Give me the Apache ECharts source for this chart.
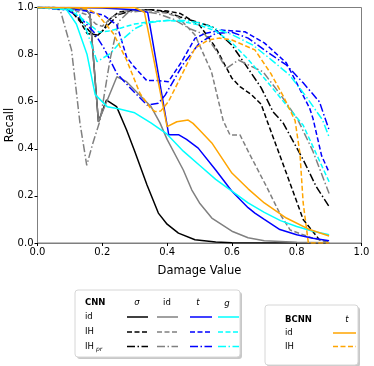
<!DOCTYPE html>
<html>
<head>
<meta charset="utf-8">
<script src="https://cdn.jsdelivr.net/npm/echarts@6/dist/echarts.min.js"></script>
<style>
  html, body { margin: 0; padding: 0; background: #fff; }
  #chart { width: 374px; height: 366px; }
</style>
</head>
<body>
<div id="chart"></div>
<script>
// x ticks / y ticks
const xTicks = [0, 0.2, 0.4, 0.6, 0.8, 1.0];
const yTicks = [0, 0.2, 0.4, 0.6, 0.8, 1.0];

// CNN, sigma
const sigmaId = [[0,1],[0.05,1],[0.1,0.995],[0.15,0.99],[0.162,0.97],[0.188,0.515],[0.213,0.607],[0.244,0.579],[0.275,0.48],[0.3,0.39],[0.338,0.246],[0.373,0.127],[0.4,0.08],[0.435,0.042],[0.486,0.014],[0.55,0.004],[0.6,0.001],[0.9,0]];
const sigmaIH = [[0,1],[0.05,1],[0.1,0.99],[0.132,0.94],[0.153,0.89],[0.184,0.883],[0.204,0.904],[0.22,0.947],[0.25,0.98],[0.3,0.99],[0.35,0.99],[0.4,0.985],[0.44,0.975],[0.5,0.925],[0.55,0.83],[0.6,0.7],[0.625,0.664],[0.66,0.63],[0.69,0.59],[0.711,0.51],[0.768,0.297],[0.82,0.1],[0.87,0.014],[0.9,0.005]];
const sigmaIHpr = [[0,1],[0.05,1],[0.1,0.99],[0.13,0.95],[0.16,0.9],[0.18,0.875],[0.2,0.9],[0.25,0.97],[0.3,0.99],[0.35,0.99],[0.4,0.98],[0.44,0.96],[0.5,0.935],[0.54,0.918],[0.6,0.84],[0.646,0.749],[0.69,0.66],[0.727,0.557],[0.758,0.51],[0.82,0.354],[0.86,0.24],[0.9,0.155]];

// CNN, id
const idId = [[0,1],[0.05,1],[0.1,0.995],[0.15,0.99],[0.162,0.97],[0.188,0.515],[0.245,0.706],[0.275,0.685],[0.3,0.65],[0.35,0.58],[0.378,0.51],[0.4,0.44],[0.45,0.31],[0.476,0.226],[0.5,0.17],[0.538,0.106],[0.6,0.05],[0.65,0.022],[0.7,0.01],[0.8,0.003],[0.9,0.001]];
const idIH = [[0,1],[0.1,0.995],[0.15,0.97],[0.18,0.93],[0.2,0.92],[0.23,0.96],[0.27,0.985],[0.33,0.99],[0.4,0.975],[0.434,0.96],[0.486,0.883],[0.537,0.727],[0.573,0.52],[0.594,0.459],[0.625,0.459],[0.65,0.39],[0.707,0.239],[0.75,0.12],[0.78,0.055],[0.85,0.02],[0.9,0.005]];
const idIHpr = [[0,1],[0.05,0.995],[0.07,0.99],[0.105,0.82],[0.131,0.51],[0.152,0.33],[0.17,0.42],[0.193,0.52],[0.224,0.78],[0.25,0.94],[0.28,0.98],[0.32,0.985],[0.368,0.975],[0.42,0.95],[0.47,0.91],[0.517,0.885],[0.55,0.82],[0.582,0.74],[0.62,0.777],[0.66,0.75],[0.696,0.727],[0.75,0.63],[0.804,0.522],[0.85,0.39],[0.9,0.21]];

// CNN, t
const tId = [[0,1],[0.1,1],[0.2,0.998],[0.3,0.99],[0.34,0.98],[0.405,0.46],[0.435,0.46],[0.46,0.44],[0.496,0.403],[0.55,0.31],[0.6,0.22],[0.65,0.15],[0.671,0.127],[0.7,0.1],[0.748,0.057],[0.8,0.035],[0.85,0.02],[0.9,0.01]];
const tIH = [[0,1],[0.1,0.995],[0.15,0.985],[0.204,0.967],[0.245,0.926],[0.275,0.79],[0.297,0.75],[0.337,0.69],[0.37,0.69],[0.404,0.685],[0.445,0.77],[0.486,0.869],[0.517,0.89],[0.568,0.904],[0.64,0.897],[0.7,0.85],[0.768,0.765],[0.84,0.572],[0.85,0.53],[0.877,0.37],[0.9,0.3]];
const tIHpr = [[0,1],[0.09,0.99],[0.13,0.96],[0.173,0.897],[0.204,0.83],[0.245,0.72],[0.287,0.657],[0.338,0.586],[0.373,0.593],[0.394,0.628],[0.45,0.76],[0.5,0.85],[0.55,0.89],[0.6,0.895],[0.65,0.87],[0.7,0.82],[0.768,0.756],[0.82,0.68],[0.87,0.6],[0.9,0.48]];

// CNN, g
const gId = [[0,1],[0.05,1],[0.09,0.99],[0.12,0.93],[0.153,0.8],[0.178,0.63],[0.215,0.579],[0.25,0.57],[0.3,0.553],[0.35,0.51],[0.4,0.462],[0.45,0.39],[0.5,0.33],[0.55,0.27],[0.6,0.22],[0.65,0.17],[0.7,0.13],[0.75,0.095],[0.8,0.07],[0.85,0.05],[0.9,0.035]];
const gIH = [[0,1],[0.1,0.99],[0.15,0.94],[0.19,0.895],[0.22,0.9],[0.25,0.91],[0.3,0.93],[0.35,0.94],[0.4,0.945],[0.45,0.94],[0.5,0.925],[0.55,0.9],[0.6,0.85],[0.65,0.78],[0.7,0.7],[0.768,0.586],[0.82,0.5],[0.86,0.38],[0.9,0.26]];
const gIHpr = [[0,1],[0.1,0.995],[0.13,0.97],[0.153,0.897],[0.184,0.77],[0.225,0.805],[0.266,0.869],[0.3,0.91],[0.338,0.935],[0.4,0.945],[0.45,0.945],[0.5,0.935],[0.55,0.91],[0.6,0.885],[0.665,0.84],[0.72,0.78],[0.778,0.713],[0.83,0.62],[0.88,0.522],[0.9,0.45]];

// BCNN, t
const bId = [[0,1],[0.3,1],[0.33,0.98],[0.4,0.494],[0.43,0.515],[0.465,0.522],[0.48,0.508],[0.5,0.48],[0.538,0.425],[0.6,0.297],[0.65,0.23],[0.7,0.17],[0.768,0.106],[0.84,0.057],[0.9,0.03]];
const bIH = [[0,1],[0.1,1],[0.15,0.995],[0.183,0.975],[0.234,0.89],[0.275,0.777],[0.316,0.636],[0.35,0.57],[0.363,0.558],[0.38,0.56],[0.404,0.6],[0.445,0.713],[0.486,0.827],[0.527,0.862],[0.56,0.87],[0.6,0.862],[0.671,0.82],[0.72,0.72],[0.76,0.62],[0.795,0.52],[0.81,0.38],[0.82,0.17],[0.836,0],[0.9,0]];

const SOLID = 'solid';
const DASH = [5, 2.5];
const DASHDOT = [8, 2.5, 1.5, 2.5];

const seriesDefs = [
  { data: sigmaId,   color: '#000000', dash: SOLID },
  { data: sigmaIH,   color: '#000000', dash: DASH },
  { data: sigmaIHpr, color: '#000000', dash: DASHDOT },
  { data: idId,      color: '#808080', dash: SOLID },
  { data: idIH,      color: '#808080', dash: DASH },
  { data: idIHpr,    color: '#808080', dash: DASHDOT },
  { data: tId,       color: '#0000ff', dash: SOLID },
  { data: tIH,       color: '#0000ff', dash: DASH },
  { data: tIHpr,     color: '#0000ff', dash: DASHDOT },
  { data: gId,       color: '#00ffff', dash: SOLID },
  { data: gIH,       color: '#00ffff', dash: DASH },
  { data: gIHpr,     color: '#00ffff', dash: DASHDOT },
  { data: bId,       color: '#ffa500', dash: SOLID },
  { data: bIH,       color: '#ffa500', dash: DASH }
];

const FONT = 'DejaVu Sans';
const AXIS_COLOR = '#7f7f7f';

// legend pieces (drawn as graphics)
function legLine(x1, x2, y, color, dash) {
  return { type: 'line', shape: { x1: x1, y1: y, x2: x2, y2: y },
    style: { stroke: color, lineWidth: 1.5, lineDash: dash === SOLID ? null : dash } };
}
function legText(x, y, text, opts) {
  opts = opts || {};
  return { type: 'text', x: x, y: y,
    style: { text: text, fill: '#000', font: (opts.style || '') + ' ' + (opts.weight || 'normal') + ' ' + (opts.size || 8.5) + 'px "' + FONT + '"',
      textAlign: opts.align || 'left', textVerticalAlign: 'middle' } };
}

const rows = [317, 332, 346.5];
const cols = [[127, 148], [157, 178], [190, 212], [218, 239]];
const colColors = ['#000000', '#808080', '#0000ff', '#00ffff'];
const rowDash = [SOLID, DASH, DASHDOT];

const graphics = [
  // y axis title (rotated; kept out of the axis so the grid isn't pushed)
  { type: 'text', x: 10.5, y: 125, rotation: Math.PI / 2,
    style: { text: 'Recall', fill: '#000', font: '11.5px "' + FONT + '"', textAlign: 'center', textVerticalAlign: 'middle' } },
  // CNN legend box
  { type: 'rect', shape: { x: 77, y: 292, width: 165, height: 67, r: 3 }, style: { fill: '#c8c8c8' } },
  { type: 'rect', shape: { x: 75, y: 290, width: 165, height: 67, r: 3 }, style: { fill: '#fff', stroke: '#d6d6d6', lineWidth: 1 } },
  legText(85, 303, 'CNN', { weight: 'bold' }),
  legText(137, 303, 'σ', { style: 'italic', align: 'center' }),
  legText(167, 303, 'id', { align: 'center' }),
  legText(198, 303, 't', { style: 'italic', align: 'center' }),
  legText(227, 304, 'g', { style: 'italic', align: 'center' }),
  legText(85, rows[0], 'id'),
  legText(85, rows[1], 'IH'),
  legText(85, rows[2], 'IH'),
  legText(96, rows[2] + 3, 'pr', { style: 'italic', size: 6 }),
  // BCNN legend box
  { type: 'rect', shape: { x: 267, y: 307, width: 93, height: 60, r: 3 }, style: { fill: '#c8c8c8' } },
  { type: 'rect', shape: { x: 265, y: 305, width: 93, height: 60, r: 3 }, style: { fill: '#fff', stroke: '#d6d6d6', lineWidth: 1 } },
  legText(285, 320, 'BCNN', { weight: 'bold' }),
  legText(347, 320, 't', { style: 'italic', align: 'center' }),
  legText(285, 333, 'id'),
  legText(285, 346.5, 'IH'),
  legLine(333, 356, 333, '#ffa500', SOLID),
  legLine(333, 356, 346.5, '#ffa500', DASH)
];
rows.forEach(function (y, r) {
  cols.forEach(function (c, k) {
    graphics.push(legLine(c[0], c[1], y, colColors[k], rowDash[r]));
  });
});

const chart = echarts.init(document.getElementById('chart'), null, { renderer: 'canvas' });
chart.setOption({
  animation: false,
  backgroundColor: '#fff',
  textStyle: { fontFamily: FONT },
  grid: {
    left: 37.5, right: 12.5, top: 7.5, bottom: 123,
    containLabel: false,
    show: true, borderColor: AXIS_COLOR, borderWidth: 1, backgroundColor: 'transparent'
  },
  xAxis: {
    type: 'value', min: xTicks[0], max: xTicks[xTicks.length - 1], interval: 0.2,
    name: 'Damage Value', nameLocation: 'middle', nameGap: 22, nameMoveOverlap: false,
    nameTextStyle: { fontSize: 11.5, color: '#000', fontFamily: FONT },
    axisLine: { show: true, lineStyle: { color: AXIS_COLOR, width: 1 } },
    axisTick: { show: true, length: 3, lineStyle: { color: '#000' } },
    axisLabel: { fontSize: 10, color: '#000', margin: 4, fontFamily: FONT,
      formatter: function (v) { return v.toFixed(1); } },
    splitLine: { show: false }
  },
  yAxis: {
    type: 'value', min: yTicks[0], max: yTicks[yTicks.length - 1], interval: 0.2,
    axisLine: { show: true, lineStyle: { color: AXIS_COLOR, width: 1 } },
    axisTick: { show: true, length: 3, lineStyle: { color: '#000' } },
    axisLabel: { fontSize: 10, color: '#000', margin: 4, fontFamily: FONT,
      formatter: function (v) { return v.toFixed(1); } },
    splitLine: { show: false }
  },
  graphic: graphics,
  series: seriesDefs.map(function (s) {
    return {
      type: 'line', data: s.data, showSymbol: false, symbol: 'none', clip: true,
      lineStyle: { color: s.color, width: 1.5, type: s.dash },
      emphasis: { disabled: true }
    };
  })
});
</script>
</body>
</html>
